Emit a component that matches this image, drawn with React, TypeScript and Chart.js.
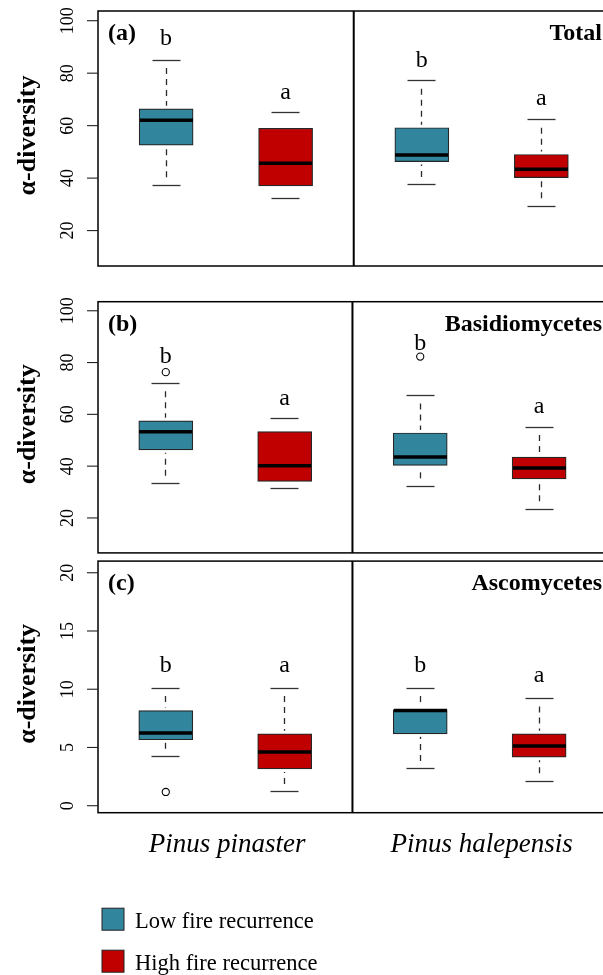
import React, { useEffect, useRef } from 'react';
import { Chart, registerables } from 'chart.js';
Chart.register(...registerables);

// ---------- data ----------
const species = ['Pinus pinaster', 'Pinus halepensis'];
const groups = ['Low fire recurrence', 'High fire recurrence'];
const groupColors = ['#31859C', '#C00000'];
const panelTags = ['(a)', '(b)', '(c)'];
const panelTitles = ['Total', 'Basidiomycetes', 'Ascomycetes'];
const yAxisTitle = 'α-diversity';

const ticksAB = [20, 40, 60, 80, 100];
const ticksC = [0, 5, 10, 15, 20];

// per species: [lower whisker, Q1, median, Q3, upper whisker]
const totalLow = [[37.3, 52.6, 62.1, 66.4, 85.0], [37.4, 46.3, 48.8, 59.2, 77.1]];
const totalHigh = [[32.1, 37.0, 45.7, 59.0, 65.0], [29.3, 40.2, 43.4, 49.0, 62.2]];
const basidioLow = [[33.2, 46.3, 53.3, 57.5, 72.0], [32.2, 40.3, 43.5, 52.8, 67.3]];
const basidioHigh = [[31.4, 34.1, 40.2, 53.3, 58.3], [23.4, 35.1, 39.3, 43.5, 55.1]];
const ascoLow = [[4.2, 5.66, 6.25, 8.17, 10.1], [3.16, 6.17, 8.18, 8.25, 10.1]];
const ascoHigh = [[1.18, 3.16, 4.62, 6.17, 10.1], [2.11, 4.17, 5.13, 6.17, 9.21]];

// outliers per species
const totalLowOut = [[], []];
const totalHighOut = [[], []];
const basidioLowOut = [[76.3], [82.3]];
const basidioHighOut = [[], []];
const ascoLowOut = [[1.18], []];
const ascoHighOut = [[], []];

// significance letters [species][group] and their baseline value
const totalLetters = [['b', 'a'], ['b', 'a']];
const basidioLetters = [['b', 'a'], ['b', 'a']];
const ascoLetters = [['b', 'a'], ['b', 'a']];
const totalLetterY = [[90.7, 70.2], [82.5, 67.9]];
const basidioLetterY = [[79.8, 63.8], [84.9, 60.6]];
const ascoLetterY = [[11.47, 11.5], [11.47, 10.6]];

// ---------- layout ----------
const X_MIN = 0.43;
const SUB_W = 2.14;
const xPosition = (s: number, g: number) => s * SUB_W + 1 + g;

const SERIF = '"Liberation Serif", "Times New Roman", serif';
const f = (size: number, style = '') => `${style} ${size}px ${SERIF}`.trim();

const panels = [
  { tag: panelTags[0], title: panelTitles[0], stats: [totalLow, totalHigh], outliers: [totalLowOut, totalHighOut], letters: totalLetters, letterY: totalLetterY, ticks: ticksAB, yMin: 6.5, yMax: 103.7, top: 0, height: 280, padTop: 11, padBottom: 14, last: false },
  { tag: panelTags[1], title: panelTitles[1], stats: [basidioLow, basidioHigh], outliers: [basidioLowOut, basidioHighOut], letters: basidioLetters, letterY: basidioLetterY, ticks: ticksAB, yMin: 6.5, yMax: 103.5, top: 285, height: 273, padTop: 16.7, padBottom: 0.7, last: false },
  { tag: panelTags[2], title: panelTitles[2], stats: [ascoLow, ascoHigh], outliers: [ascoLowOut, ascoHighOut], letters: ascoLetters, letterY: ascoLetterY, ticks: ticksC, yMin: -0.6, yMax: 21.0, top: 556, height: 419, padTop: 1.7, padBottom: 162.3, last: true },
];

const CANVAS_W = 612;

function drawText(ctx: CanvasRenderingContext2D, text: string, x: number, y: number, font: string, align: CanvasTextAlign, baseline: CanvasTextBaseline, rotation = 0, color = '#000') {
  ctx.save();
  ctx.translate(x, y);
  if (rotation) ctx.rotate(rotation);
  ctx.font = font;
  ctx.textAlign = align;
  ctx.textBaseline = baseline;
  ctx.fillStyle = color;
  ctx.fillText(text, 0, 0);
  ctx.restore();
}

function line(ctx: CanvasRenderingContext2D, x1: number, y1: number, x2: number, y2: number) {
  ctx.beginPath();
  ctx.moveTo(x1, y1);
  ctx.lineTo(x2, y2);
  ctx.stroke();
}

const crisp = (v: number) => Math.round(v - 0.5) + 0.5;

function makeConfig(p: any): any {
  const datasets: any[] = groups.map((name, g) => ({
    type: 'bar',
    label: name,
    data: species.map((_, s) => ({ x: xPosition(s, g), y: [p.stats[g][s][1], p.stats[g][s][3]] })),
    backgroundColor: groupColors[g],
    borderColor: '#262626',
    borderWidth: 1.2,
    borderSkipped: false,
    barThickness: 54,
    grouped: false,
    order: 2,
  }));
  const outPts: any[] = [];
  groups.forEach((_, g) => species.forEach((_, s) => p.outliers[g][s].forEach((v: number) => outPts.push({ x: xPosition(s, g), y: v }))));
  datasets.push({
    type: 'scatter',
    label: 'outliers',
    data: outPts,
    pointRadius: 3.6,
    backgroundColor: '#ffffff',
    borderColor: '#000000',
    borderWidth: 1.1,
    order: 1,
  });

  const plugin = {
    id: 'boxExtras',
    afterDatasetsDraw(chart: any) {
      const ctx: CanvasRenderingContext2D = chart.ctx;
      const xs = chart.scales.x, ys = chart.scales.y;
      ctx.save();
      groups.forEach((_, g) => species.forEach((_, s) => {
        const st = p.stats[g][s];
        const cx = crisp(xs.getPixelForValue(xPosition(s, g)));
        const [yLo, yQ1, yMed, yQ3, yHi] = st.map((v: number) => ys.getPixelForValue(v));
        ctx.strokeStyle = '#2a2a2a';
        ctx.lineWidth = 1.3;
        ctx.setLineDash([6, 5]);
        if (yQ3 - 3 - (yHi + 8) >= 5) line(ctx, cx, yHi + 8, cx, yQ3 - 3);
        if (yLo - 8 - (yQ1 + 3) >= 5) line(ctx, cx, yLo - 8, cx, yQ1 + 3);
        ctx.setLineDash([]);
        ctx.strokeStyle = '#333';
        line(ctx, cx - 14, crisp(yHi), cx + 14, crisp(yHi));
        line(ctx, cx - 14, crisp(yLo), cx + 14, crisp(yLo));
        ctx.strokeStyle = '#000';
        ctx.lineWidth = 3.5;
        line(ctx, cx - 26.5, yMed, cx + 26.5, yMed);
      }));
      ctx.restore();
    },
    afterDraw(chart: any) {
      const ctx: CanvasRenderingContext2D = chart.ctx;
      const xs = chart.scales.x, ys = chart.scales.y;
      const a = chart.chartArea;
      ctx.save();
      // frame
      ctx.strokeStyle = '#000';
      ctx.lineWidth = 1.5;
      ctx.strokeRect(a.left, a.top, a.right - a.left, a.bottom - a.top);
      const divX = xs.getPixelForValue(X_MIN + SUB_W);
      ctx.lineWidth = 2;
      line(ctx, divX, a.top, divX, a.bottom);
      // y axis ticks
      ctx.lineWidth = 1.1;
      ctx.strokeStyle = '#222';
      p.ticks.forEach((v: number) => {
        const y = ys.getPixelForValue(v);
        line(ctx, a.left - 11, y, a.left, y);
        drawText(ctx, String(v), 72.5, y, f(18), 'center', 'alphabetic', -Math.PI / 2);
      });
      // y axis title
      drawText(ctx, yAxisTitle, 34.5, (a.top + a.bottom) / 2 - 3, f(26, 'bold'), 'center', 'alphabetic', -Math.PI / 2);
      // tag and title
      drawText(ctx, p.tag, a.left + 10, a.top + 29, f(24, 'bold'), 'left', 'alphabetic');
      drawText(ctx, p.title, 602, a.top + 29, f(24, 'bold'), 'right', 'alphabetic');
      // letters
      groups.forEach((_, g) => species.forEach((_, s) => {
        const cx = xs.getPixelForValue(xPosition(s, g));
        drawText(ctx, p.letters[s][g], cx, ys.getPixelForValue(p.letterY[s][g]), f(24), 'center', 'alphabetic');
      }));
      if (p.last) {
        species.forEach((name, s) => {
          const c0 = xs.getPixelForValue(X_MIN + s * SUB_W);
          const c1 = xs.getPixelForValue(X_MIN + (s + 1) * SUB_W);
          drawText(ctx, name, (c0 + c1) / 2 + 2, a.bottom + 39.5, f(27, 'italic'), 'center', 'alphabetic');
        });
        groups.forEach((name, g) => {
          const top = a.bottom + 95.5 + g * 42;
          ctx.fillStyle = groupColors[g];
          ctx.fillRect(102, top, 22, 22);
          ctx.strokeStyle = '#222';
          ctx.lineWidth = 1;
          ctx.strokeRect(102, top, 22, 22);
          drawText(ctx, name, 135, top + 20, f(22.5), 'left', 'alphabetic');
        });
      }
      ctx.restore();
    },
  };

  return {
    type: 'bar',
    data: { datasets },
    options: {
      animation: false,
      responsive: false,
      devicePixelRatio: 1,
      events: [],
      layout: { padding: { left: 98, right: CANVAS_W - (98 + 2 * SUB_W * 119.5), top: p.padTop, bottom: p.padBottom } },
      plugins: { legend: { display: false }, tooltip: { enabled: false }, title: { display: false } },
      scales: {
        x: { type: 'linear', min: X_MIN, max: X_MIN + 2 * SUB_W, offset: false, display: false },
        y: { type: 'linear', min: p.yMin, max: p.yMax, display: false },
      },
    },
    plugins: [plugin],
  };
}

function Panel({ p }: { p: any }) {
  const ref = useRef<HTMLCanvasElement>(null);
  useEffect(() => {
    if (!ref.current) return;
    const chart = new Chart(ref.current, makeConfig(p));
    return () => chart.destroy();
  }, [p]);
  return (
    <canvas
      ref={ref}
      width={CANVAS_W}
      height={p.height}
      style={{ position: 'absolute', left: 0, top: p.top, width: CANVAS_W, height: p.height }}
    />
  );
}

export default function App() {
  return (
    <div style={{ position: 'absolute', left: 0, top: 0, width: 603, height: 975, overflow: 'hidden', background: '#fff' }}>
      {panels.map((p, i) => (
        <Panel key={i} p={p} />
      ))}
    </div>
  );
}
